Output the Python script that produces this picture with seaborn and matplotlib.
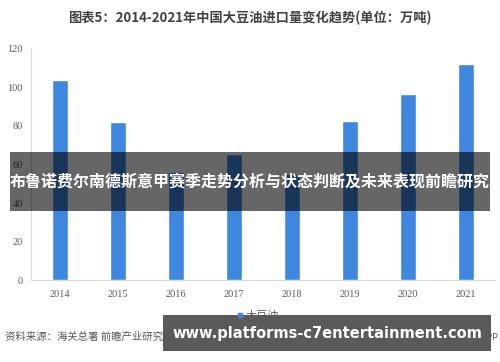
import matplotlib
matplotlib.use('Agg')
import matplotlib.pyplot as plt
import seaborn as sns
import pandas as pd
from matplotlib.patches import Rectangle
from matplotlib.lines import Line2D

# 数据
years = ['2014', '2015', '2016', '2017', '2018', '2019', '2020', '2021']
imports = [103.5, 81.8, 56.0, 65.3, 54.9, 82.6, 96.3, 111.8]
series_name = '大豆油'
title = '图表5：2014-2021年中国大豆油进口量变化趋势(单位：万吨)'
source = '资料来源：海关总署 前瞻产业研究院'
banner = '布鲁诺费尔南德斯意甲赛季走势分析与状态判断及未来表现前瞻研究'
url = 'www.platforms-c7entertainment.com'

data = pd.DataFrame({'year': years, 'value': imports})

sns.set_style('white')
plt.rcParams['font.family'] = ['Noto Sans CJK SC', 'DejaVu Sans']

fig = plt.figure(figsize=(5, 3.62), dpi=100)
ax = fig.add_axes([0.062, 0.2257, 0.928, 0.640])

sns.barplot(data=data, x='year', y='value', color='#3f86de', width=0.29,
            saturation=1, ax=ax)
ax.set_xlim(-0.5, 7.5)
ax.set_ylim(0, 120)
ax.set_yticks(range(0, 121, 20))
ax.set_xlabel('')
ax.set_ylabel('')
for s in ['top', 'right']:
    ax.spines[s].set_visible(False)
ax.spines['left'].set_color('#d9d9d9')
ax.spines['bottom'].set_color('#d9d9d9')
ax.tick_params(length=0, labelsize=7.5, labelcolor='#595959')
ax.tick_params(axis='x', pad=7)
ax.tick_params(axis='y', pad=6)
for lab in ax.get_xticklabels() + ax.get_yticklabels():
    lab.set_family('Liberation Serif')

# 标题
fig.text(0.5, 0.95, title, ha='center', va='center', fontsize=9.5,
         fontweight='bold', color='#404040')

# 图例
h = Line2D([], [], marker='s', color='#3f86de', linestyle='', markersize=3.5)
fig.legend([h], [series_name], loc='center', bbox_to_anchor=(0.515, 0.127),
           frameon=False, fontsize=8, handlelength=0.6, handletextpad=0.2,
           labelcolor='#595959')

# 来源
fig.text(0.01, 0.069, source, ha='left', va='center', fontsize=7.5,
         color='#595959')
fig.text(0.998, 0.069, 'APP', ha='right', va='center', fontsize=6.5,
         color='#595959')

# 遮挡横幅
fig.patches.append(Rectangle((0.02, 0.417), 0.96, 0.163, transform=fig.transFigure,
                             facecolor='black', alpha=0.6, edgecolor='none'))
fig.text(0.5, 0.4985, banner, ha='center', va='center', fontsize=11.5,
         fontweight='bold', color='white')

fig.patches.append(Rectangle((0.326, 0.030), 0.656, 0.100, transform=fig.transFigure,
                             facecolor='#5a5a5a', edgecolor='none'))
fig.text(0.654, 0.080, url, ha='center', va='center', fontsize=10.5,
         fontweight='bold', color='white', family='DejaVu Sans')

fig.savefig('out.png', dpi=100)
